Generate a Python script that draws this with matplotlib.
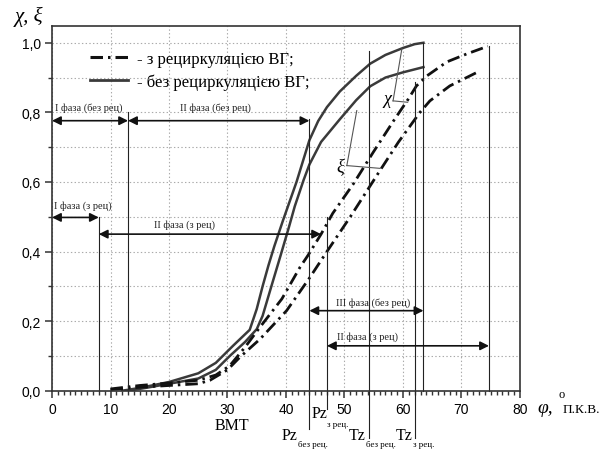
import matplotlib
matplotlib.use("Agg")
import matplotlib.pyplot as plt
from matplotlib.lines import Line2D
from matplotlib.ticker import FixedLocator, MultipleLocator, FuncFormatter

plt.rcParams['lines.scale_dashes'] = False

# chi, xi without recirculation (solid)
x_chi_bez = [12, 15, 20, 25, 28, 31, 33.8, 35, 36, 37, 38, 39.5, 41.8, 44, 45.5, 47, 49.2, 52, 54.4, 57, 60, 62, 63.5]
y_chi_bez = [0, 0.008, 0.025, 0.05, 0.08, 0.13, 0.175, 0.235, 0.30, 0.36, 0.415, 0.49, 0.60, 0.72, 0.775, 0.815, 0.86, 0.905, 0.94, 0.965, 0.985, 0.996, 1.0]
x_xi_bez = [13, 16, 20, 25, 28, 30.4, 33, 35, 36, 37.5, 39.1, 40.5, 41.5, 43, 44, 46, 49.2, 52, 54.4, 57, 60, 63.5]
y_xi_bez = [0, 0.008, 0.02, 0.035, 0.06, 0.10, 0.14, 0.177, 0.215, 0.30, 0.39, 0.47, 0.53, 0.605, 0.65, 0.715, 0.78, 0.835, 0.875, 0.90, 0.915, 0.93]

# chi, xi with recirculation (dash-dot)
x_chi_z = [10, 15, 20, 25, 28, 30.4, 33, 35.3, 37.5, 39.3, 42.4, 43.8, 46, 48, 51.5, 54.9, 58.6, 60.9, 62.3, 64.1, 67.5, 70.9, 74.5]
y_chi_z = [0.005, 0.015, 0.022, 0.03, 0.045, 0.072, 0.125, 0.177, 0.225, 0.264, 0.355, 0.39, 0.45, 0.51, 0.594, 0.685, 0.781, 0.838, 0.876, 0.905, 0.945, 0.968, 0.99]
x_xi_z = [10, 15, 20, 25, 27, 30, 32.1, 35.6, 40.1, 44.1, 47, 51, 55.5, 59.2, 62.9, 64.6, 68, 72.9]
y_xi_z = [0.003, 0.01, 0.015, 0.02, 0.03, 0.06, 0.096, 0.149, 0.23, 0.326, 0.40, 0.50, 0.618, 0.714, 0.80, 0.833, 0.876, 0.917]

# vertical marker lines
vline_x = [8, 13, 44, 47, 54.2, 62, 63.5, 74.7]
vline_top = [0.5, 0.80, 0.78, 0.5, 0.977, 0.886, 1.0, 0.99]
vline_bottom = [0, 0, -0.11, -0.053, -0.135, -0.135, 0, 0]

# phase arrows: start, end, level
arrow_x0 = [0, 13, 0, 8, 44, 47]
arrow_x1 = [13, 44, 8, 46, 63.5, 74.7]
arrow_y = [0.776, 0.776, 0.498, 0.45, 0.23, 0.129]
phase_labels = ['I фаза (без рец)', 'II фаза (без рец)', 'I фаза (з рец)',
                'II фаза (з рец)', 'III фаза (без рец)', 'II фаза (з рец)']
label_x = [6.2, 28, 5.2, 22.6, 54.9, 54]
label_y = [0.815, 0.815, 0.532, 0.479, 0.255, 0.158]

fig = plt.figure(figsize=(6.04, 4.52), dpi=100)
ax = fig.add_axes([0.0861, 0.1334, 0.7748, 0.8075])

serif = 'Liberation Serif'
sans = 'Liberation Sans'

for sp in ax.spines.values():
    sp.set_linewidth(1.2)
    sp.set_color('#333333')

ax.set_xlim(0, 80)
ax.set_ylim(0, 1.049)
ax.xaxis.set_major_locator(FixedLocator(list(range(0, 81, 10))))
ax.xaxis.set_minor_locator(MultipleLocator(1))
ax.yaxis.set_major_locator(FixedLocator([0, 0.2, 0.4, 0.6, 0.8, 1.0]))
ax.yaxis.set_minor_locator(FixedLocator([0.1, 0.3, 0.5, 0.7, 0.9]))
ax.yaxis.set_major_formatter(FuncFormatter(lambda v, p: f'{v:.1f}'.replace('.', ',')))
ax.xaxis.set_major_formatter(FuncFormatter(lambda v, p: f'{v:.0f}'))
ax.tick_params(which='major', direction='out', length=5, width=1.1, color='#333333',
               labelsize=10, labelfontfamily=sans, pad=3)
ax.tick_params(which='minor', direction='out', length=3, width=1.0, color='#333333')

ax.grid(True, which='major', axis='x', color='#aaaaaa', linestyle=':', linewidth=0.8)
ax.grid(True, which='both', axis='y', color='#aaaaaa', linestyle=':', linewidth=0.8)
ax.set_axisbelow(True)

dd = (9, 3.6, 1.8, 3.6)
ax.plot(x_chi_bez, y_chi_bez, color='#3a3a3a', lw=1.8)
ax.plot(x_xi_bez, y_xi_bez, color='#3a3a3a', lw=1.8)
ax.plot(x_chi_z, y_chi_z, color='#111111', lw=2.0, dashes=dd)
ax.plot(x_xi_z, y_xi_z, color='#111111', lw=2.0, dashes=dd)

for x, top, bot in zip(vline_x, vline_top, vline_bottom):
    ax.plot([x, x], [bot, top], color='#222222', lw=0.8, clip_on=False)

for x0, x1, y in zip(arrow_x0, arrow_x1, arrow_y):
    ax.annotate('', xy=(x1, y), xytext=(x0, y),
                arrowprops=dict(arrowstyle='<|-|>', color='#111111', lw=1.2,
                                shrinkA=0, shrinkB=0, mutation_scale=13))
for t, x, y in zip(phase_labels, label_x, label_y):
    ax.text(x, y, t, fontsize=7.5, family=serif, ha='center', va='center', color='#222222')

# chi / xi callouts
ax.text(57.3, 0.84, 'χ', fontsize=13, family=serif, style='italic', ha='center', va='center')
ax.plot([58.3, 59.8], [0.833, 0.982], color='#555555', lw=0.8)
ax.plot([58.3, 60.8], [0.833, 0.829], color='#555555', lw=0.8)
ax.text(49.3, 0.648, 'ξ', fontsize=13, family=serif, style='italic', ha='center', va='center')
ax.plot([50.4, 52.1], [0.647, 0.805], color='#555555', lw=0.8)
ax.plot([50.4, 56.1], [0.647, 0.639], color='#555555', lw=0.8)

# legend
handles = [Line2D([], [], color='#111111', lw=2.2, dashes=dd),
           Line2D([], [], color='#3a3a3a', lw=2.0)]
ax.legend(handles, ['- з рециркуляцією ВГ;', '- без рециркуляцією ВГ;'],
          loc='upper left', bbox_to_anchor=(0.081, 0.93), frameon=False,
          borderpad=0, borderaxespad=0, handlelength=2.3, handletextpad=0.5,
          labelspacing=0.35, prop={'family': serif, 'size': 12})

# labels below axis
ax.text(30.7, -0.10, 'BMT', fontsize=11.5, family=serif, ha='center', va='center', clip_on=False)
ax.text(39.3, -0.127, 'Pz', fontsize=11.5, family=serif, ha='left', va='center', clip_on=False)
ax.text(42.1, -0.143, 'без рец.', fontsize=6.5, family=serif, ha='left', va='top', clip_on=False)
ax.text(44.3, -0.064, 'Pz', fontsize=11.5, family=serif, ha='left', va='center', clip_on=False)
ax.text(47.0, -0.083, 'з рец.', fontsize=6.5, family=serif, ha='left', va='top', clip_on=False)
ax.text(50.8, -0.127, 'Tz', fontsize=11.5, family=serif, ha='left', va='center', clip_on=False)
ax.text(53.7, -0.143, 'без рец.', fontsize=6.5, family=serif, ha='left', va='top', clip_on=False)
ax.text(58.8, -0.127, 'Tz', fontsize=11.5, family=serif, ha='left', va='center', clip_on=False)
ax.text(61.7, -0.143, 'з рец.', fontsize=6.5, family=serif, ha='left', va='top', clip_on=False)

# axis titles
fig.text(0.025, 0.962, 'χ, ξ', fontsize=15, family=serif, style='italic', ha='left', va='center')
ax.text(82.9, -0.047, 'φ,', fontsize=14, family=serif, style='italic', ha='left', va='center', clip_on=False)
ax.text(86.5, -0.01, 'o', fontsize=9, family=serif, ha='left', va='center', clip_on=False)
ax.text(87.3, -0.052, 'П.К.В.', fontsize=9.5, family=serif, ha='left', va='center', clip_on=False)

fig.savefig('out.png', dpi=100)
